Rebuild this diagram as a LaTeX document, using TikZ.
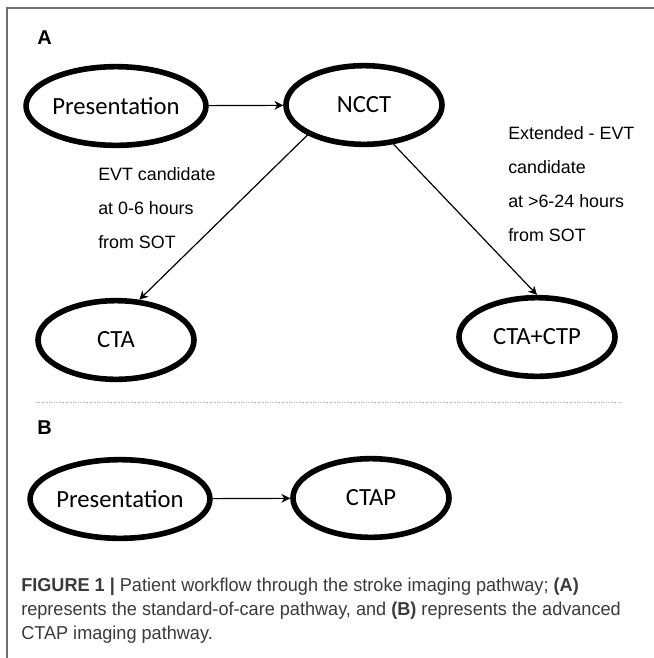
\documentclass[tikz,border=0pt]{standalone}
\usepackage{fontspec}
\setmainfont{Liberation Sans}
\newfontfamily\stagefont{Carlito}
\newfontfamily\capfont[FakeStretch=0.97]{Liberation Sans}
\usepackage{tikz}
\usetikzlibrary{positioning, arrows.meta, shapes.geometric}
\usepackage{xcolor}
\definecolor{framegray}{HTML}{707070}
\definecolor{rulegray}{HTML}{A8A8A8}
\definecolor{captiongray}{HTML}{3A3A3A}

\begin{document}
\begin{tikzpicture}[x=0.75pt, y=-0.75pt,
  stage/.style={draw, ellipse, line width=4.2pt, minimum width=117pt, minimum height=59pt, inner sep=0pt, font=\stagefont\fontsize{18.5}{22}\selectfont},
  flow/.style={-{Stealth[length=6.5pt, width=6.5pt, inset=2pt]}, line width=0.9pt},
  note/.style={anchor=west, inner sep=0pt, align=left, font=\fontsize{13.4}{25.5}\selectfont},
  panel/.style={inner sep=0pt, font=\bfseries\fontsize{15}{18}\selectfont}]
\useasboundingbox (0,0) rectangle (654,658);
\draw[framegray, line width=1pt] (7,658) -- (7,8) -- (654,8);
% panel A
\node[panel] (labA) at (44.5,38) {A};
\node[stage] (presA) at (116,106) {Presentation};
\node[stage] (ncct) at (364,105) {NCCT};
\node[stage] (cta) at (116,340) {CTA};
\node[stage] (ctactp) at (537,337) {CTA+CTP};
\draw[flow] (presA) -- (ncct);
\draw[flow] (ncct.208) -- (cta.60);
\draw[flow] (ncct.307) -- (ctactp.north);
\node[note] (early) at (98,208) {EVT candidate\\at 0-6 hours\\from SOT};
\node[note] (late) at (508,184) {Extended - EVT\\candidate\\at >6-24 hours\\from SOT};
\draw[rulegray, line width=0.6pt, dash pattern=on 0.6pt off 1.2pt] (37,402) -- (622,402);
% panel B
\node[panel] (labB) at (44.5,428) {B};
\node[stage] (presB) at (120,499) {Presentation};
\node[stage] (ctap) at (371,498) {CTAP};
\draw[flow] (presB) -- (ctap);
\node[anchor=north west, inner sep=0pt, align=left, text=captiongray, font=\capfont\fontsize{14}{18}\selectfont] (caption) at (21,578) {\textbf{FIGURE 1 |} Patient workflow through the stroke imaging pathway; \textbf{(A)}\\represents the standard-of-care pathway, and \textbf{(B)} represents the advanced\\CTAP imaging pathway.};
\end{tikzpicture}
\end{document}
